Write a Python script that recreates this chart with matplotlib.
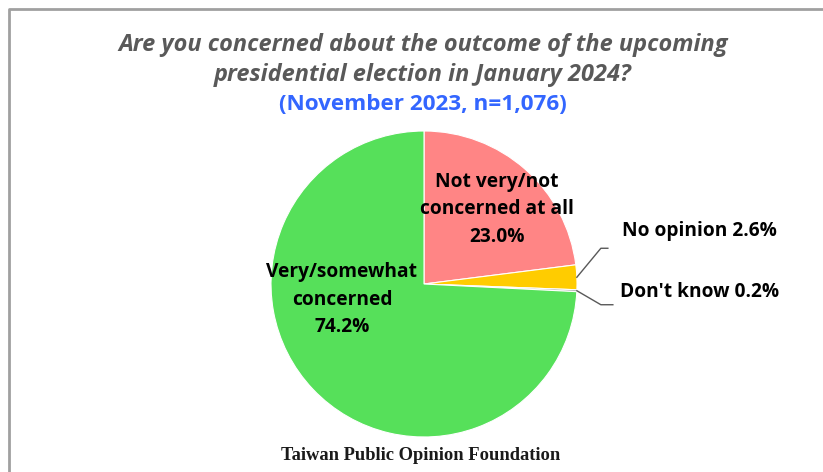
import numpy as np
import matplotlib
matplotlib.use('Agg')
import matplotlib.pyplot as plt

# Survey data
categories = ['Not very/not\nconcerned at all', 'No opinion', "Don't know", 'Very/somewhat\nconcerned']
values = [23.0, 2.6, 0.2, 74.2]
colors = ['#FF8585', '#FFCC00', '#A6A6A6', '#56E05A']

title_text = 'Are you concerned about the outcome of the upcoming\npresidential election in January 2024?'
subtitle_text = '(November 2023, n=1,076)'
source_text = 'Taiwan Public Opinion Foundation'

W, H = 823, 472
fig = plt.figure(figsize=(W / 100, H / 100), dpi=100)
ax = fig.add_axes([0, 0, 1, 1])

cx, cy, r = 424, H - 284, 153
wedges, _ = ax.pie(values, colors=colors, startangle=90, counterclock=False,
                   center=(cx, cy), radius=r,
                   wedgeprops=dict(edgecolor='white', linewidth=0.8))
ax.set_xlim(0, W)
ax.set_ylim(0, H)
ax.set_aspect('equal')
ax.axis('off')

# outer frame
ax.plot([9, 9, W + 5], [-5, H - 9, H - 9], color='#A0A0A0', lw=2, solid_capstyle='butt')

label_font = dict(family='Open Sans', weight='bold', fontsize=13.8, color='black')

# labels inside the big slices
ax.text(497, H - 209, f'{categories[0]}\n{values[0]:.1f}%', ha='center', va='center',
        linespacing=1.5, **label_font)
ax.text(342, H - 300, f'{categories[3]}\n{values[3]:.1f}%', ha='center', va='center',
        linespacing=1.5, **label_font)

# small slices with leader lines
cum = np.cumsum([0] + values)
total = sum(values)
for i, (dy_elbow, dx_end, tx, ty) in zip([1, 2], [(-29, 7, 622, 231), (14, 12, 620, 292)]):
    mid = 90 - 360 * (cum[i] + values[i] / 2) / total
    x0 = cx + r * np.cos(np.radians(mid))
    y0 = cy + r * np.sin(np.radians(mid))
    x1 = x0 + 24
    y1 = y0 - dy_elbow
    ax.plot([x0, x1, x1 + dx_end], [y0, y1, y1], color='#595959', lw=1)
    ax.text(tx, H - ty, f'{categories[i]} {values[i]:.1f}%', ha='left', va='center', **label_font)

fig.text(423 / W, 1 - 60 / H, title_text, ha='center', va='center', fontsize=16.9,
         family='Open Sans', style='italic', weight='bold', color='#595959', linespacing=1.3)
fig.text(423 / W, 1 - 105 / H, subtitle_text, ha='center', va='center', fontsize=16.2,
         family='Open Sans', weight='bold', color='#3366FF')
fig.text(421 / W, 1 - 455 / H, source_text, ha='center', va='center', fontsize=13.3,
         family='Liberation Serif', weight='bold', color='#1A1A1A')

fig.savefig('out.png', dpi=100)
